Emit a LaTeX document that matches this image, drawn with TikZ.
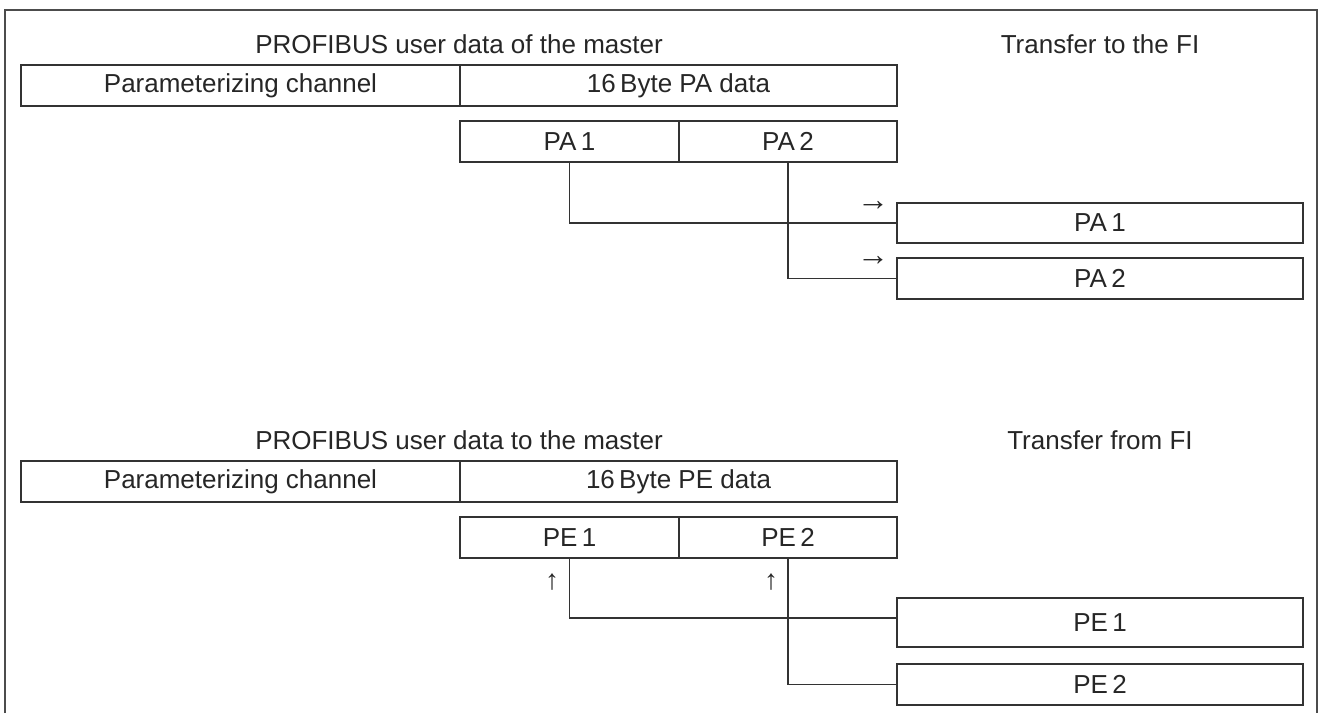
\documentclass[tikz,border=0pt]{standalone}
\usepackage{fontspec}
\setmainfont{Liberation Sans}
\usepackage{tikz}
\usetikzlibrary{positioning}

\tikzset{
	cell/.style={draw=black!80, line width=1.1pt, rectangle, inner sep=0pt, text centered, minimum height=41, text=black!85},
	caption/.style={anchor=base, inner sep=0pt, text=black!85},
	sign/.style={inner sep=0pt, text=black!85}
}

\begin{document}
\begin{tikzpicture}[x=1pt, y=-1pt, font=\fontsize{26}{30}\selectfont]
		\useasboundingbox (0,0) rectangle (1324,713);
		\draw[black!70, line width=1.1pt] (5,713) |- (1317,10) -- (1317,713);
		
		%output to the FI
		\node (titleOut) at (459,53) [caption]{PROFIBUS user data of the master};
		\node (transferOut) at (1100,53) [caption]{Transfer to the FI};
		
		\node (chanOut) at (240.5,85.5) [cell, minimum width=439]{Parameterizing channel};
		\node (dataOut) at (678.5,85.5) [cell, minimum width=437]{16\,Byte PA data};
		
		\node (PA1) at (569.5,141.5) [cell, minimum width=219]{PA\,1};
		\node (PA2) at (788,141.5) [cell, minimum width=218]{PA\,2};
		
		\node (PA1 FI) at (1100,223) [cell, minimum width=406, minimum height=40]{PA\,1};
		\node (PA2 FI) at (1100,278.5) [cell, minimum width=406]{PA\,2};
		
		\node (arrow PA1) at (873,206) [sign, font=\fontsize{32}{34}\selectfont]{→};
		\node (arrow PA2) at (873,261) [sign, font=\fontsize{32}{34}\selectfont]{→};
		
		%input from the FI
		\node (titleIn) at (459,449) [caption]{PROFIBUS user data to the master};
		\node (transferIn) at (1100,449) [caption]{Transfer from FI};
		
		\node (chanIn) at (240.5,481.5) [cell, minimum width=439]{Parameterizing channel};
		\node (dataIn) at (678.5,481.5) [cell, minimum width=437]{16\,Byte PE data};
		
		\node (PE1) at (569.5,537.5) [cell, minimum width=219]{PE\,1};
		\node (PE2) at (788,537.5) [cell, minimum width=218]{PE\,2};
		
		\node (PE1 FI) at (1100,622.5) [cell, minimum width=406, minimum height=49]{PE\,1};
		\node (PE2 FI) at (1100,684.5) [cell, minimum width=406]{PE\,2};
		
		\node (arrow PE1) at (552,582) [sign, font=\fontsize{28}{30}\selectfont]{↑};
		\node (arrow PE2) at (771,582) [sign, font=\fontsize{28}{30}\selectfont]{↑};
		
		%Links
		\draw[black!80, line width=1.1pt] (PA1.south) |- (PA1 FI.west);
		\draw[black!80, line width=1.1pt] (PA2.south) |- (PA2 FI.west);
		\draw[black!80, line width=1.1pt] (PE1.south) |- ([yshift=4.5pt]PE1 FI.west);
		\draw[black!80, line width=1.1pt] (PE2.south) |- (PE2 FI.west);
		
\end{tikzpicture}
\end{document}
